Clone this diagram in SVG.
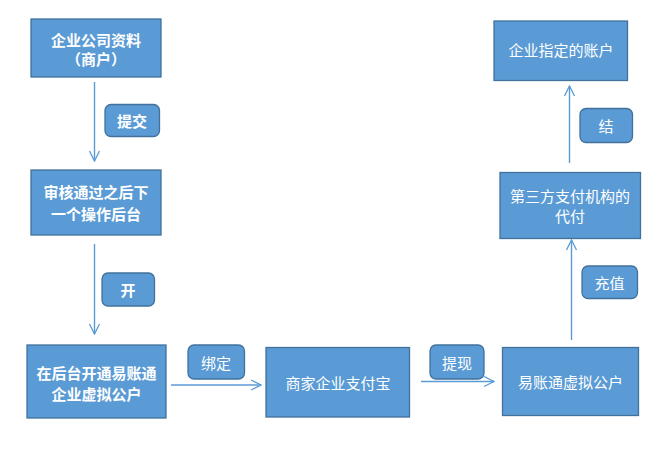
<svg xmlns="http://www.w3.org/2000/svg" width="668" height="455" viewBox="0 0 668 455">
<style>
.box{fill:#5B9BD5;stroke:#41719C;stroke-width:1.3}
.lbl{fill:#5B9BD5;stroke:#41719C;stroke-width:1.3}
.t{font-family:"Noto Sans CJK SC","Noto Sans",sans-serif;font-size:15px;fill:#FFFFFF;text-anchor:middle;dominant-baseline:central}
.b{font-weight:bold}
.c{stroke:#5B9BD5;stroke-width:1.4;fill:none}
</style>
<defs>
<marker id="ah" viewBox="0 0 12 12" refX="11" refY="6" markerWidth="12" markerHeight="12" markerUnits="userSpaceOnUse" orient="auto">
<path d="M1,1 L11,6 L1,11" fill="none" stroke="#5B9BD5" stroke-width="1.3"/>
</marker>
</defs>
<rect width="668" height="455" fill="#FFFFFF"/>
<g id="connectors">
<line class="c" x1="94.5" y1="82" x2="94.5" y2="161" marker-end="url(#ah)"/>
<line class="c" x1="94.5" y1="244" x2="94.5" y2="334" marker-end="url(#ah)"/>
<line class="c" x1="171" y1="385" x2="261" y2="385" marker-end="url(#ah)"/>
<line class="c" x1="421" y1="381.5" x2="494" y2="381.5" marker-end="url(#ah)"/>
<line class="c" x1="571.5" y1="340" x2="571.5" y2="240" marker-end="url(#ah)"/>
<line class="c" x1="569.5" y1="163" x2="569.5" y2="86" marker-end="url(#ah)"/>
</g>
<g id="n1"><rect class="box" x="31" y="19" width="130" height="58"/>
<text class="t b" x="96" y="39">企业公司资料</text><text class="t b" x="96" y="58">（商户）</text></g>
<g id="l1"><rect class="lbl" x="105" y="104.5" width="54.5" height="32" rx="6"/><text class="t b" x="132" y="120.5">提交</text></g>
<g id="n2"><rect class="box" x="31" y="170" width="130" height="65"/>
<text class="t b" x="96" y="191">审核通过之后下</text><text class="t b" x="96" y="213">一个操作后台</text></g>
<g id="l2"><rect class="lbl" x="102" y="273" width="52.5" height="33" rx="6"/><text class="t b" x="128" y="289.5">开</text></g>
<g id="n3"><rect class="box" x="27" y="345" width="139" height="73"/>
<text class="t b" x="96.5" y="372">在后台开通易账通</text><text class="t b" x="96.5" y="393.5">企业虚拟公户</text></g>
<g id="l3"><rect class="lbl" x="188" y="345" width="56.5" height="34" rx="6"/><text class="t" x="216" y="362">绑定</text></g>
<g id="n4"><rect class="box" x="266" y="347.5" width="143.5" height="69.5"/>
<text class="t" x="338" y="382.5">商家企业支付宝</text></g>
<g id="l4"><rect class="lbl" x="430" y="345" width="54" height="34" rx="6"/><text class="t" x="457" y="362">提现</text></g>
<g id="n5"><rect class="box" x="502.5" y="347.5" width="136" height="68"/>
<text class="t" x="570.5" y="381">易账通虚拟公户</text></g>
<g id="l5"><rect class="lbl" x="582" y="266" width="55.5" height="32.5" rx="6"/><text class="t" x="609.5" y="282.5">充值</text></g>
<g id="n6"><rect class="box" x="500" y="172.5" width="140.5" height="66"/>
<text class="t" x="570" y="195">第三方支付机构的</text><text class="t" x="570" y="215.5">代付</text></g>
<g id="l6"><rect class="lbl" x="580" y="108.5" width="52.5" height="34" rx="6"/><text class="t" x="606" y="125.5">结</text></g>
<g id="n7"><rect class="box" x="494" y="21" width="133.5" height="59.5"/>
<text class="t" x="561" y="49.5">企业指定的账户</text></g>
</svg>
